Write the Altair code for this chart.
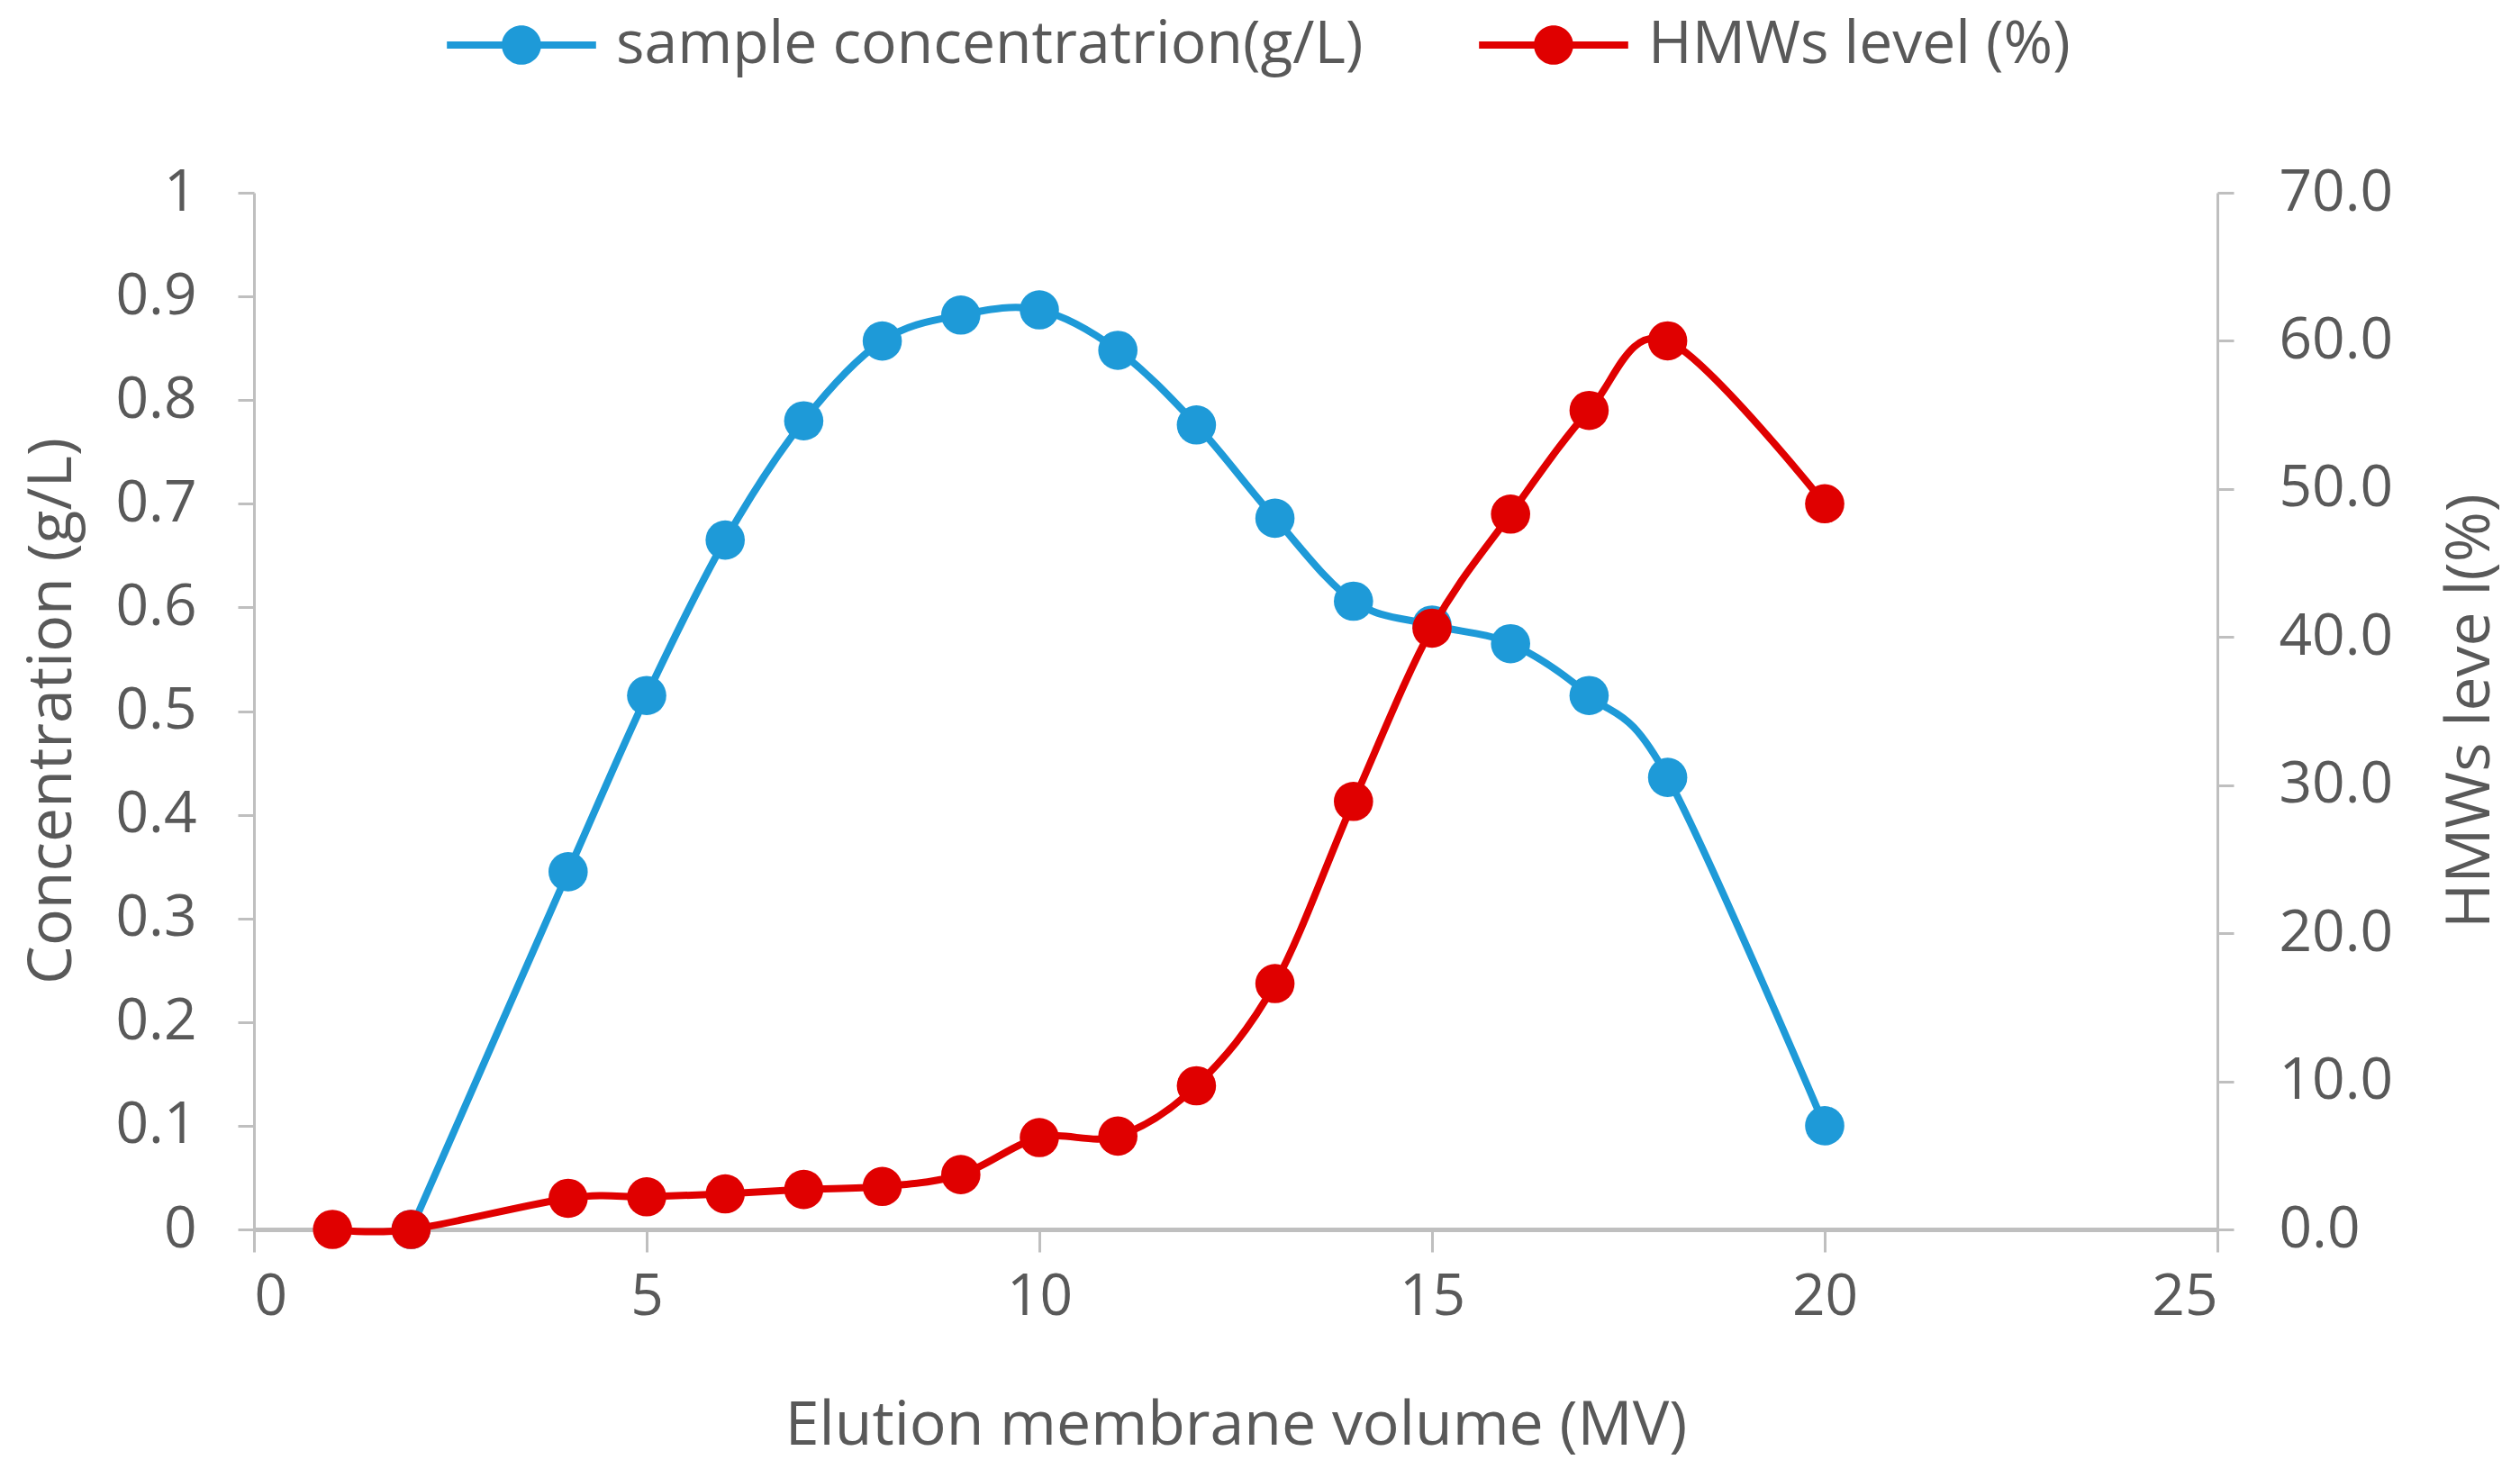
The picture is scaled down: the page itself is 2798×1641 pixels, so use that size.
import altair as alt
import pandas as pd

# elution volume (MV) where each series was sampled
mv_conc = [2, 4, 5, 6, 7, 8, 9, 10, 11, 12, 13, 14, 15, 16, 17, 18, 20]
conc = [0.0, 0.345, 0.515, 0.665, 0.78, 0.857, 0.882, 0.887, 0.848, 0.776,
        0.686, 0.606, 0.583, 0.565, 0.515, 0.436, 0.1]

mv_hmw = [1, 2, 4, 5, 6, 7, 8, 9, 10, 11, 12, 13, 14, 15, 16, 17, 18, 20]
hmw = [0.0, 0.0, 2.1, 2.2, 2.4, 2.7, 2.9, 3.7, 6.2, 6.3, 9.7, 16.6, 28.9,
       40.6, 48.3, 55.3, 60.0, 49.0]

series_names = ["sample concentratrion(g/L)", "HMWs level (%)"]
series_colors = ["#1E9AD8", "#E00000"]

x_ticks = [0, 5, 10, 15, 20, 25]
conc_ticks = [0, 0.1, 0.2, 0.3, 0.4, 0.5, 0.6, 0.7, 0.8, 0.9, 1]
hmw_ticks = [0, 10, 20, 30, 40, 50, 60, 70]

blue_df = pd.DataFrame({"mv": mv_conc, "value": conc, "series": series_names[0]})
red_df = pd.DataFrame({"mv": mv_hmw, "value": hmw, "series": series_names[1]})

FONT = "Open Sans"
GREY = "#BFBFBF"
TEXT = "#595959"

# legend symbol: a dot with a line through it (line reaches past the unit box)
legend_path = ("M-3.6,-0.17H3.6V0.17H-3.6Z "
               "M0.95,0A0.95,0.95 0 1,1 -0.95,0A0.95,0.95 0 1,1 0.95,0Z")

color = alt.Color(
    "series:N",
    scale=alt.Scale(domain=series_names, range=series_colors),
    legend=alt.Legend(
        title=None, orient="none", direction="horizontal",
        legendX=264, legendY=-197, columnPadding=128,
        symbolType=legend_path, symbolSize=46 ** 2, symbolStrokeWidth=0,
        symbolOpacity=1, labelOffset=72, labelLimit=0,
        labelFont=FONT, labelFontSize=66, labelColor=TEXT,
    ),
)

x = alt.X(
    "mv:Q",
    scale=alt.Scale(domain=[0, 25], nice=False),
    axis=alt.Axis(
        values=x_ticks, title="Elution membrane volume (MV)",
        domainColor=GREY, domainWidth=5, tickColor=GREY, tickWidth=3, tickSize=25,
        labelPadding=18, titleY=218, titleBaseline="middle",
    ),
)

y_left = alt.Y(
    "value:Q",
    scale=alt.Scale(domain=[0, 1], nice=False),
    axis=alt.Axis(
        values=conc_ticks, format="~g", orient="left", title="Concentration (g/L)",
        domainColor=GREY, domainWidth=3, tickColor=GREY, tickWidth=3, tickSize=18,
        labelPadding=46, titleX=-224, titleY=575, titleAngle=270,
        titleAlign="center", titleBaseline="middle",
    ),
)

y_right = alt.Y(
    "value:Q",
    scale=alt.Scale(domain=[0, 70], nice=False),
    axis=alt.Axis(
        values=hmw_ticks, format=".1f", orient="right", title="HMWs leve l(%)",
        domainColor=GREY, domainWidth=3, tickColor=GREY, tickWidth=3, tickSize=18,
        labelPadding=50, titleX=281, titleY=575, titleAngle=270,
        titleAlign="center", titleBaseline="middle",
    ),
)

blue_line = alt.Chart(blue_df).mark_line(
    interpolate="cardinal", strokeWidth=8, color=series_colors[0]
).encode(x=x, y=y_left)
blue_pts = alt.Chart(blue_df).mark_point(
    filled=True, size=1900, opacity=1, shape="circle"
).encode(x=x, y=y_left, color=color)

red_line = alt.Chart(red_df).mark_line(
    interpolate="cardinal", strokeWidth=8, color=series_colors[1]
).encode(x=x, y=y_right)
red_pts = alt.Chart(red_df).mark_point(
    filled=True, size=1900, opacity=1, shape="circle"
).encode(x=x, y=y_right, color=color)

chart = alt.layer(
    alt.layer(blue_line, blue_pts),
    alt.layer(red_line, red_pts),
).resolve_scale(
    y="independent"
).properties(
    width=2180, height=1151,
    autosize=alt.AutoSizeParams(type="none"),
    padding={"left": 274, "top": 206, "right": 320, "bottom": 260},
    background="white",
).configure_view(
    stroke=None
).configure_axis(
    grid=False, labelFont=FONT, labelFontSize=64, labelColor=TEXT,
    titleFont=FONT, titleFontSize=68, titleColor=TEXT, titleFontWeight="normal",
)

chart.save("out.html", embed_options={"renderer": "svg", "actions": False})
